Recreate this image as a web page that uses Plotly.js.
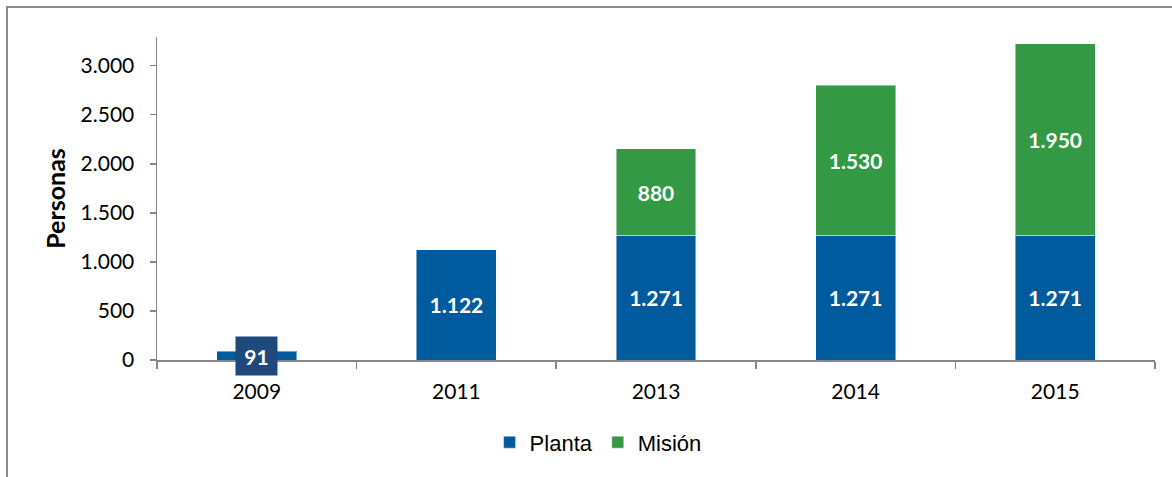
<!DOCTYPE html>
<html>
<head>
<meta charset="utf-8">
<script src="https://cdn.plot.ly/plotly-3.0.1.min.js"></script>
<style>
  html, body { margin: 0; padding: 0; background: #fff; }
  #wrap { position: relative; width: 1172px; height: 477px; overflow: hidden; }
  #chart { width: 1172px; height: 477px; }
  #frame { position: absolute; left: 6px; top: 6px; width: 1300px; height: 600px;
           border-left: 2px solid #8c8c8c; border-top: 2px solid #8c8c8c; pointer-events: none; }
  #err { position: absolute; left: 300px; top: 100px; color: red; font: 14px sans-serif; }
</style>
</head>
<body>
<div id="wrap">
  <div id="chart"></div>
  <div id="frame"></div>
  <div id="err"></div>
</div>
<script>
const years = ['2009', '2011', '2013', '2014', '2015'];
const planta = [91, 1122, 1271, 1271, 1271];
const mision = [null, null, 880, 1530, 1950];
const yTickVals = [0, 500, 1000, 1500, 2000, 2500, 3000];
const seriesNames = ['Planta', 'Misión'];
const yTitle = 'Personas';

function fmt(v) {
  if (v === null || v === undefined) return '';
  return String(v).replace(/\B(?=(\d{3})+(?!\d))/g, '.');
}

try {
const labelFont = { family: 'Lato, "DejaVu Sans", sans-serif', size: 21, color: '#ffffff' };

const traces = [
  {
    type: 'bar', name: seriesNames[0], x: years, y: planta,
    marker: { color: '#005A9E', line: { color: 'rgba(255,255,255,0.45)', width: 1 } },
    text: planta.map(v => v < 200 ? '' : '<b>' + fmt(v) + '</b>'),
    textposition: 'inside', insidetextanchor: 'middle', textangle: 0,
    insidetextfont: labelFont, hoverinfo: 'none'
  },
  {
    type: 'bar', name: seriesNames[1], x: years, y: mision,
    marker: { color: '#339944', line: { color: 'rgba(255,255,255,0.45)', width: 1 } },
    text: mision.map(v => v === null ? '' : '<b>' + fmt(v) + '</b>'),
    textposition: 'inside', insidetextanchor: 'middle', textangle: 0,
    insidetextfont: labelFont, hoverinfo: 'none'
  }
];

const annotations = [];
planta.forEach((v, i) => {
  if (v < 200) {
    annotations.push({
      x: i, y: v / 2, xref: 'x', yref: 'y',
      text: '<b>' + fmt(v) + '</b>', showarrow: false,
      font: labelFont, bgcolor: '#1F497D', width: 41, height: 38,
      borderpad: 0, xanchor: 'center', yanchor: 'middle'
    });
  }
});

const layout = {
  width: 1172, height: 477,
  margin: { l: 157, r: 17, t: 37, b: 116.5, pad: 0 },
  paper_bgcolor: '#ffffff', plot_bgcolor: '#ffffff',
  separators: ',.',
  barmode: 'stack', bargap: 0.6,
  showlegend: true,
  legend: {
    orientation: 'h', x: 0.442, xanchor: 'center', y: -0.255, yanchor: 'middle',
    font: { family: '"Liberation Sans", Arial, sans-serif', size: 22, color: '#000' },
    traceorder: 'normal'
  },
  xaxis: {
    type: 'category', showline: true, linecolor: '#868686', linewidth: 1.5,
    ticks: 'outside', tickson: 'boundaries', ticklen: 7, tickcolor: '#868686', tickwidth: 1.5,
    showgrid: false, zeroline: false, tickangle: 0, ticklabelstandoff: 12,
    tickfont: { family: 'Lato, "DejaVu Sans", sans-serif', size: 21, color: '#000' }
  },
  yaxis: {
    range: [0, 3292], tickvals: yTickVals, tickformat: ',d',
    showline: true, linecolor: '#868686', linewidth: 1.5,
    ticks: 'outside', ticklen: 6, tickcolor: '#868686', tickwidth: 1.5,
    showgrid: false, zeroline: false, ticklabelstandoff: 11,
    tickfont: { family: 'Lato, "DejaVu Sans", sans-serif', size: 21, color: '#000' },
    title: { text: '<b>' + yTitle + '</b>', standoff: 8,
             font: { family: 'Lato, "DejaVu Sans", sans-serif', size: 25, color: '#000' } }
  },
  annotations: annotations
};

Plotly.newPlot('chart', traces, layout, { displayModeBar: false, staticPlot: true })
  .catch(e => { document.getElementById('err').textContent = 'ERR ' + e; });
} catch (e) {
  document.getElementById('err').textContent = 'ERR ' + e + ' ' + e.stack;
}
</script>
</body>
</html>
